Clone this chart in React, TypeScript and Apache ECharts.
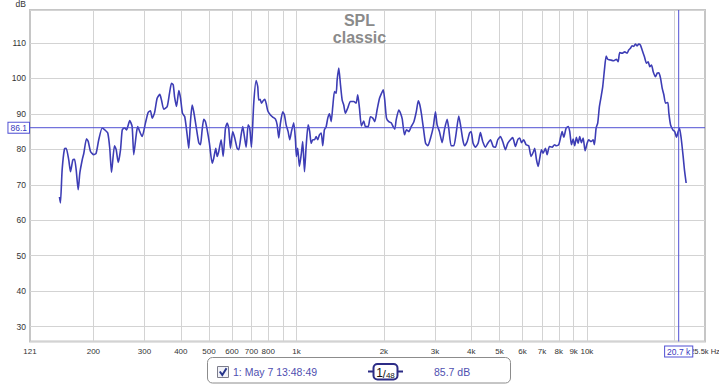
import { useEffect, useRef } from 'react';
import * as echarts from 'echarts';

const freqHz = [
  152.8, 154.0, 156.1, 159.0, 161.2, 164.5, 166.8, 169.9, 172.2, 174.5,
  177.3, 179.6, 183.0, 185.4, 189.4, 192.0, 195.5, 200.6, 204.4, 208.7,
  214.4, 218.9, 224.1, 227.7, 230.9, 236.4, 239.6, 243.5, 248.0, 251.4,
  255.9, 260.0, 266.8, 271.9, 275.4, 281.3, 284.2, 288.8, 294.3, 302.1,
  308.7, 314.4, 318.6, 324.5, 331.5, 338.5, 343.1, 349.4, 359.0, 365.6,
  371.5, 376.6, 380.5, 386.6, 393.7, 399.1, 405.1, 412.6, 420.5, 425.9,
  431.7, 437.5, 443.1, 451.6, 461.0, 467.3, 473.6, 479.7, 486.2, 492.9,
  501.8, 512.7, 519.2, 527.5, 533.4, 540.2, 550.6, 559.5, 569.7, 577.6,
  584.7, 592.6, 603.5, 613.2, 625.0, 632.9, 645.1, 653.4, 662.2, 671.2,
  682.0, 690.7, 700.0, 712.9, 726.6, 735.9, 741.7, 750.0, 757.8, 768.0,
  777.8, 786.5, 796.6, 813.8, 828.8, 846.8, 858.2, 869.2, 881.0, 897.3,
  909.4, 921.6, 936.3, 948.3, 961.1, 978.8, 992.1, 1000, 1010, 1024,
  1040, 1051, 1066, 1080, 1097, 1111, 1124, 1138, 1154, 1169,
  1184, 1200, 1217, 1232, 1248, 1265, 1282, 1300, 1317, 1334,
  1352, 1370, 1381, 1399, 1418, 1437, 1455, 1474, 1501, 1534,
  1575, 1605, 1626, 1648, 1674, 1705, 1728, 1766, 1798, 1832,
  1861, 1897, 1932, 1963, 1990, 2014, 2042, 2079, 2119, 2153,
  2181, 2205, 2251, 2282, 2313, 2355, 2393, 2437, 2484, 2537,
  2586, 2627, 2660, 2697, 2746, 2784, 2835, 2896, 2960, 3010,
  3050, 3107, 3174, 3232, 3302, 3344, 3409, 3481, 3548, 3621,
  3671, 3739, 3796, 3872, 3944, 3994, 4057, 4132, 4222, 4299,
  4379, 4474, 4556, 4655, 4756, 4843, 4932, 5038, 5130, 5242,
  5338, 5454, 5554, 5675, 5779, 5872, 5952, 6059, 6176, 6305,
  6425, 6528, 6611, 6701, 6793, 6881, 6975, 7067, 7197, 7295,
  7428, 7590, 7730, 7853, 8000, 8108, 8219, 8324, 8483, 8620,
  8729, 8848, 8967, 9079, 9202, 9328, 9446, 9574, 9705, 9860,
  10016, 10144, 10339, 10504, 10612, 10757, 10894, 11043, 11193, 11336,
  11490, 11648, 11796, 12051, 12374, 12636, 12805, 12970, 13219, 13496,
  13755, 13930, 14119, 14310, 14493, 14690, 14889, 15080, 15285, 15493,
  15780, 16034, 16253, 16462, 16687, 16914, 17226, 17460, 17683, 17924,
  18168, 18401, 18651, 18996, 19147, 19407, 19767, 20064, 20335, 20612,
  20826, 21108, 21444, 21668, 21960
];

const splDb = [
  66.6, 64.9, 74.2, 80.1, 80.3, 77.0, 73.7, 77.0, 77.2, 74.2,
  68.6, 73.3, 77.0, 78.9, 83.0, 82.2, 79.4, 78.5, 78.9, 82.7,
  86.0, 85.5, 84.6, 80.3, 73.5, 81.0, 79.9, 76.3, 79.9, 85.5,
  86.1, 85.5, 88.1, 86.4, 78.5, 84.6, 86.4, 85.0, 83.6, 87.4,
  90.4, 90.9, 88.8, 90.2, 94.4, 95.5, 93.9, 91.3, 92.1, 95.8,
  98.6, 98.2, 94.9, 92.1, 96.6, 94.4, 90.2, 89.2, 84.1, 80.3,
  87.8, 92.5, 90.6, 86.4, 81.9, 81.3, 85.5, 88.5, 87.8, 85.5,
  81.7, 76.1, 77.5, 80.3, 78.0, 79.4, 82.7, 78.0, 86.0, 87.4,
  86.0, 80.3, 85.0, 83.2, 80.3, 79.9, 84.1, 86.4, 83.6, 80.6,
  86.9, 86.0, 80.6, 93.0, 99.4, 97.7, 93.9, 94.1, 93.0, 93.7,
  94.1, 93.0, 90.9, 89.7, 89.1, 88.5, 86.9, 83.2, 87.4, 90.6,
  89.7, 86.9, 85.0, 82.7, 85.0, 87.5, 82.7, 78.0, 80.3, 75.2,
  78.9, 82.2, 73.7, 80.8, 86.9, 85.0, 81.7, 82.7, 82.7, 83.6,
  82.7, 84.1, 84.6, 81.0, 85.5, 86.3, 88.8, 90.0, 87.8, 92.1,
  96.3, 95.8, 99.6, 102.9, 98.2, 93.9, 92.5, 90.2, 91.6, 93.5,
  93.5, 93.0, 95.4, 91.6, 86.6, 88.0, 86.4, 86.4, 89.2, 88.8,
  87.8, 91.3, 94.4, 95.8, 96.8, 93.9, 88.8, 87.8, 87.5, 86.4,
  85.7, 88.3, 91.1, 90.2, 88.6, 84.1, 85.5, 85.0, 86.4, 87.8,
  90.6, 93.7, 92.5, 89.7, 85.0, 81.7, 81.0, 83.2, 86.4, 90.6,
  86.9, 85.0, 81.9, 85.5, 88.5, 86.0, 81.0, 81.0, 84.6, 89.4,
  86.9, 82.7, 81.0, 82.2, 84.6, 85.0, 81.7, 80.6, 81.7, 84.7,
  82.2, 80.6, 81.7, 82.7, 80.8, 80.6, 82.7, 83.6, 82.2, 79.9,
  81.7, 82.7, 83.3, 80.8, 82.7, 83.2, 81.9, 82.7, 81.3, 81.0,
  78.0, 79.1, 80.3, 77.2, 75.2, 77.5, 79.9, 78.9, 80.3, 78.5,
  80.8, 80.6, 81.3, 81.0, 81.3, 83.2, 85.0, 83.4, 86.0, 86.4,
  85.0, 81.3, 82.9, 81.0, 83.4, 81.7, 83.6, 81.9, 83.2, 79.6,
  81.7, 82.7, 82.2, 82.7, 81.3, 86.0, 87.4, 92.1, 94.9, 97.7,
  102.4, 106.3, 105.4, 105.2, 105.0, 105.4, 104.7, 107.3, 107.1, 107.5,
  107.1, 108.0, 108.5, 109.2, 109.0, 109.7, 109.2, 109.7, 109.4, 108.0,
  106.1, 104.3, 104.7, 103.3, 103.8, 101.9, 100.5, 101.5, 101.6, 100.1,
  97.2, 95.4, 93.0, 93.2, 90.2, 86.9, 85.5, 85.0, 83.4, 85.0,
  86.0, 83.2, 78.0, 74.2, 70.5
];

// Frequency axis: grid line positions and their labels
const gridFreqs = [121, 200, 300, 400, 500, 600, 700, 800, 900, 1000, 2000, 3000, 4000, 5000, 6000, 7000, 8000, 9000, 10000, 20000, 25500];
const gridLabels = ['121', '200', '300', '400', '500', '600', '700', '800', '', '1k', '2k', '3k', '4k', '5k', '6k', '7k', '8k', '9k', '10k', '', '25.5k Hz'];

// Level axis range
const dbMin = 25.8;
const dbMax = 119.3;
const dbUnit = 'dB';

// Cursor and legend readouts
const cursorFreq = 20700;
const cursorFreqLabel = '20.7 k';
const cursorLevel = 86.1;
const cursorLevelLabel = '86.1';
const seriesName = '1: May 7 13:48:49';
const smoothingNum = '1';
const smoothingDen = '48';
const readout = '85.7 dB';
const titleLines = ['SPL', 'classic'];

export default function App() {
  const ref = useRef<HTMLDivElement>(null);

  useEffect(() => {
    if (!ref.current) return;
    const chart = echarts.init(ref.current, null, { renderer: 'svg' });
    const font = '"Liberation Sans", Arial, sans-serif';
    const curveColor = '#3d3db5';
    const cursorColor = '#5050d4';
    const textBlue = '#4f4fb0';
    const gridColor = '#d3d3d3';
    const last = gridFreqs.length - 1;
    const fMin = gridFreqs[0];
    const fMax = gridFreqs[last];

    const cursorLabelStyle = {
      show: true,
      backgroundColor: '#ffffff',
      borderColor: cursorColor,
      borderWidth: 1,
      color: '#3a3ac0',
      fontSize: 8.5,
      fontFamily: font,
      padding: [1, 2, 0, 2],
      lineHeight: 9,
      opacity: 1,
    };

    const cursorSeries = (name: string, points: any[]) => ({
      type: 'line',
      name,
      data: points,
      z: 4,
      zlevel: 0,
      silent: true,
      symbol: 'circle',
      symbolSize: 0.01,
      showSymbol: true,
      showAllSymbol: true,
      color: cursorColor,
      itemStyle: { color: cursorColor },
      lineStyle: { color: cursorColor, width: 1, type: 'solid' },
      label: { show: false },
      labelLayout: { hideOverlap: false },
      emphasis: { disabled: true },
      clip: false,
    });

    chart.setOption({
      animation: false,
      textStyle: { fontFamily: font },
      title: {
        text: titleLines.join('\n'),
        left: 'center',
        top: 12,
        padding: 0,
        textStyle: { fontSize: 16, fontWeight: 'bold', color: '#8a8a8a', lineHeight: 17, fontFamily: font },
      },
      grid: {
        left: 30,
        top: 10,
        right: 14,
        bottom: 43.5,
        show: true,
        borderColor: '#c6c6c6',
        borderWidth: 2,
        backgroundColor: '#ffffff',
        outerBoundsMode: 'none',
      },
      xAxis: {
        type: 'log',
        logBase: 10,
        min: fMin,
        max: fMax,
        axisLabel: { show: false },
        axisTick: { show: false },
        axisLine: { show: false },
        splitLine: { show: false },
        minorTick: { show: false },
        minorSplitLine: { show: false },
        axisPointer: { show: false },
      },
      yAxis: {
        type: 'value',
        min: dbMin,
        max: dbMax,
        splitNumber: 9,
        name: dbUnit,
        nameLocation: 'end',
        nameGap: 2,
        nameTextStyle: { align: 'right', verticalAlign: 'bottom', fontSize: 8.5, color: '#333', padding: [0, 4, 0, 0], fontFamily: font },
        axisLine: { show: false },
        axisTick: { show: false },
        axisLabel: { showMinLabel: false, showMaxLabel: false, fontSize: 8.5, color: '#333', margin: 4, fontFamily: font },
        splitLine: { lineStyle: { color: gridColor, width: 1 } },
      },
      series: [
        {
          type: 'line',
          name: 'grid',
          data: [],
          z: 1,
          silent: true,
          markLine: {
            silent: true,
            z: 1,
            symbol: ['none', 'none'],
            lineStyle: { color: gridColor, width: 1, type: 'solid' },
            label: { show: true, position: 'start', distance: 6, fontSize: 8, color: '#333', fontFamily: font },
            emphasis: { disabled: true },
            data: gridFreqs.map((f, i) => {
              const edge = i === 0 || i === last;
              return {
                xAxis: f,
                lineStyle: edge ? { color: 'rgba(0,0,0,0)', width: 1, type: 'solid' } : { color: gridColor, width: 1, type: 'solid' },
                label: i === last
                  ? { show: true, formatter: gridLabels[i], fontSize: 7.5, color: '#333' }
                  : { show: true, formatter: gridLabels[i], color: '#333' },
              };
            }),
          },
        },
        {
          type: 'line',
          name: seriesName,
          data: freqHz.map((f, i) => [f, splDb[i]]),
          showSymbol: false,
          symbol: 'none',
          smooth: 0.2,
          z: 3,
          lineStyle: { color: curveColor, width: 1.6 },
          emphasis: { disabled: true },
        },
        cursorSeries('cursorF', [
          { value: [cursorFreq, dbMin], label: { ...cursorLabelStyle, position: 'bottom', distance: 5, formatter: cursorFreqLabel } },
          { value: [cursorFreq, dbMax] },
        ]),
        cursorSeries('cursorL', [
          { value: [fMin, cursorLevel], label: { ...cursorLabelStyle, position: 'left', distance: 1, formatter: cursorLevelLabel } },
          { value: [fMax, cursorLevel] },
        ]),
      ],
      graphic: [
        { type: 'rect', shape: { x: 207.5, y: 357.5, width: 303, height: 25.5, r: 5 }, style: { fill: '#ffffff', stroke: '#8c8c8c', lineWidth: 1 } },
        { type: 'rect', shape: { x: 217.5, y: 366.5, width: 11, height: 11 }, style: { fill: '#f1f2f8', stroke: '#7d7d8a', lineWidth: 1 } },
        { type: 'polyline', shape: { points: [[219.8, 371.5], [222.3, 375], [226.5, 368.3]] }, style: { stroke: '#27358a', lineWidth: 2, fill: null } },
        { type: 'text', x: 233, y: 372, style: { text: seriesName, fontSize: 10.5, fill: textBlue, verticalAlign: 'middle', fontFamily: font } },
        { type: 'line', shape: { x1: 368, y1: 371.5, x2: 403, y2: 371.5 }, style: { stroke: '#2c2c86', lineWidth: 2 } },
        { type: 'rect', shape: { x: 373.5, y: 364, width: 24, height: 15.5, r: 4 }, style: { fill: '#ffffff', stroke: '#2c2c86', lineWidth: 2 } },
        {
          type: 'text',
          x: 385.5,
          y: 372,
          style: {
            text: `{a|${smoothingNum}}{b|/}{c|${smoothingDen}}`,
            align: 'center',
            verticalAlign: 'middle',
            rich: {
              a: { fontSize: 12, fill: '#111', lineHeight: 14, verticalAlign: 'bottom', fontFamily: font },
              b: { fontSize: 11, fill: '#111', lineHeight: 14, verticalAlign: 'bottom', fontFamily: font },
              c: { fontSize: 8, fill: '#111', lineHeight: 14, verticalAlign: 'bottom', fontFamily: font },
            },
          },
        },
        { type: 'text', x: 434, y: 372, style: { text: readout, fontSize: 10.5, fill: textBlue, verticalAlign: 'middle', fontFamily: font } },
      ],
    });

    return () => chart.dispose();
  }, []);

  return (
    <div
      ref={ref}
      style={{ position: 'fixed', left: 0, top: 0, width: 719, height: 385, background: '#ffffff' }}
    />
  );
}
